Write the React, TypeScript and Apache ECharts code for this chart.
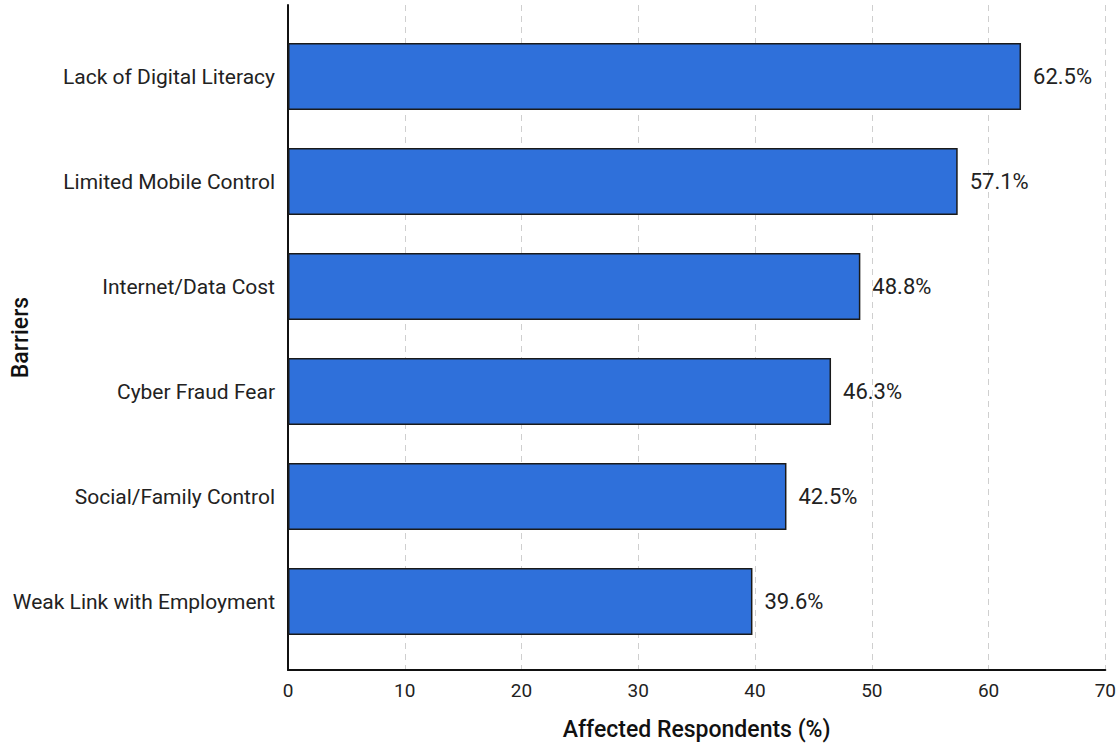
import React, { useEffect, useRef } from "react";
import * as echarts from "echarts";

const categories = [
  "Lack of Digital Literacy",
  "Limited Mobile Control",
  "Internet/Data Cost",
  "Cyber Fraud Fear",
  "Social/Family Control",
  "Weak Link with Employment",
];
const values = [62.5, 57.1, 48.8, 46.3, 42.5, 39.6];
const xMin = 0;
const xMax = 70;
const xInterval = 10;

const FONT = "Roboto, 'Noto Sans', sans-serif";

export default function App() {
  const ref = useRef<HTMLDivElement>(null);
  useEffect(() => {
    if (!ref.current) return;
    const chart = echarts.init(ref.current, null, { renderer: "svg" });
    const left = 288;
    const right = 10;
    chart.setOption({
      animation: false,
      backgroundColor: "#ffffff",
      grid: [
        { left, right, top: 5, bottom: 76 },
        { left, right, top: 24, bottom: 92 },
      ],
      xAxis: [
        {
          gridIndex: 0,
          type: "value",
          min: xMin,
          max: xMax,
          interval: xInterval,
          name: "Affected Respondents (%)",
          nameLocation: "middle",
          nameGap: 48,
          nameTextStyle: { fontFamily: FONT, fontSize: 23, fontWeight: 500, color: "#111" },
          axisLine: { show: true, lineStyle: { color: "#111", width: 2 } },
          axisTick: { show: false },
          axisLabel: { fontFamily: FONT, fontSize: 19, color: "#222", margin: 11 },
          splitLine: { show: true, lineStyle: { color: "#cfcfcf", type: [6, 5], width: 1 } },
        },
        {
          gridIndex: 1,
          type: "value",
          min: xMin,
          max: xMax,
          interval: xInterval,
          show: false,
        },
      ],
      yAxis: [
        {
          gridIndex: 0,
          type: "value",
          min: 0,
          max: 1,
          name: "Barriers",
          nameLocation: "middle",
          nameGap: 256,
          nameTextStyle: { fontFamily: FONT, fontSize: 23, fontWeight: 500, color: "#111" },
          axisLine: { show: true, lineStyle: { color: "#111", width: 2 } },
          axisTick: { show: false },
          axisLabel: { show: false },
          splitLine: { show: false },
        },
        {
          gridIndex: 1,
          type: "category",
          data: categories,
          inverse: true,
          axisLine: { show: false },
          axisTick: { show: false },
          axisLabel: { fontFamily: FONT, fontSize: 21, color: "#222", margin: 13 },
          splitLine: { show: false },
        },
      ],
      series: [
        {
          type: "bar",
          xAxisIndex: 1,
          yAxisIndex: 1,
          data: values,
          barWidth: 67,
          itemStyle: { color: "#2F70DA", borderColor: "#1a1a1a", borderWidth: 1.5 },
          label: {
            show: true,
            position: "right",
            distance: 12,
            formatter: (p: any) => `${p.value.toFixed(1)}%`,
            fontFamily: FONT,
            fontSize: 22,
            color: "#222",
          },
        },
      ],
    });
    return () => chart.dispose();
  }, []);
  return <div ref={ref} style={{ width: 1119, height: 746, position: "absolute", left: 0, top: 0 }} />;
}
